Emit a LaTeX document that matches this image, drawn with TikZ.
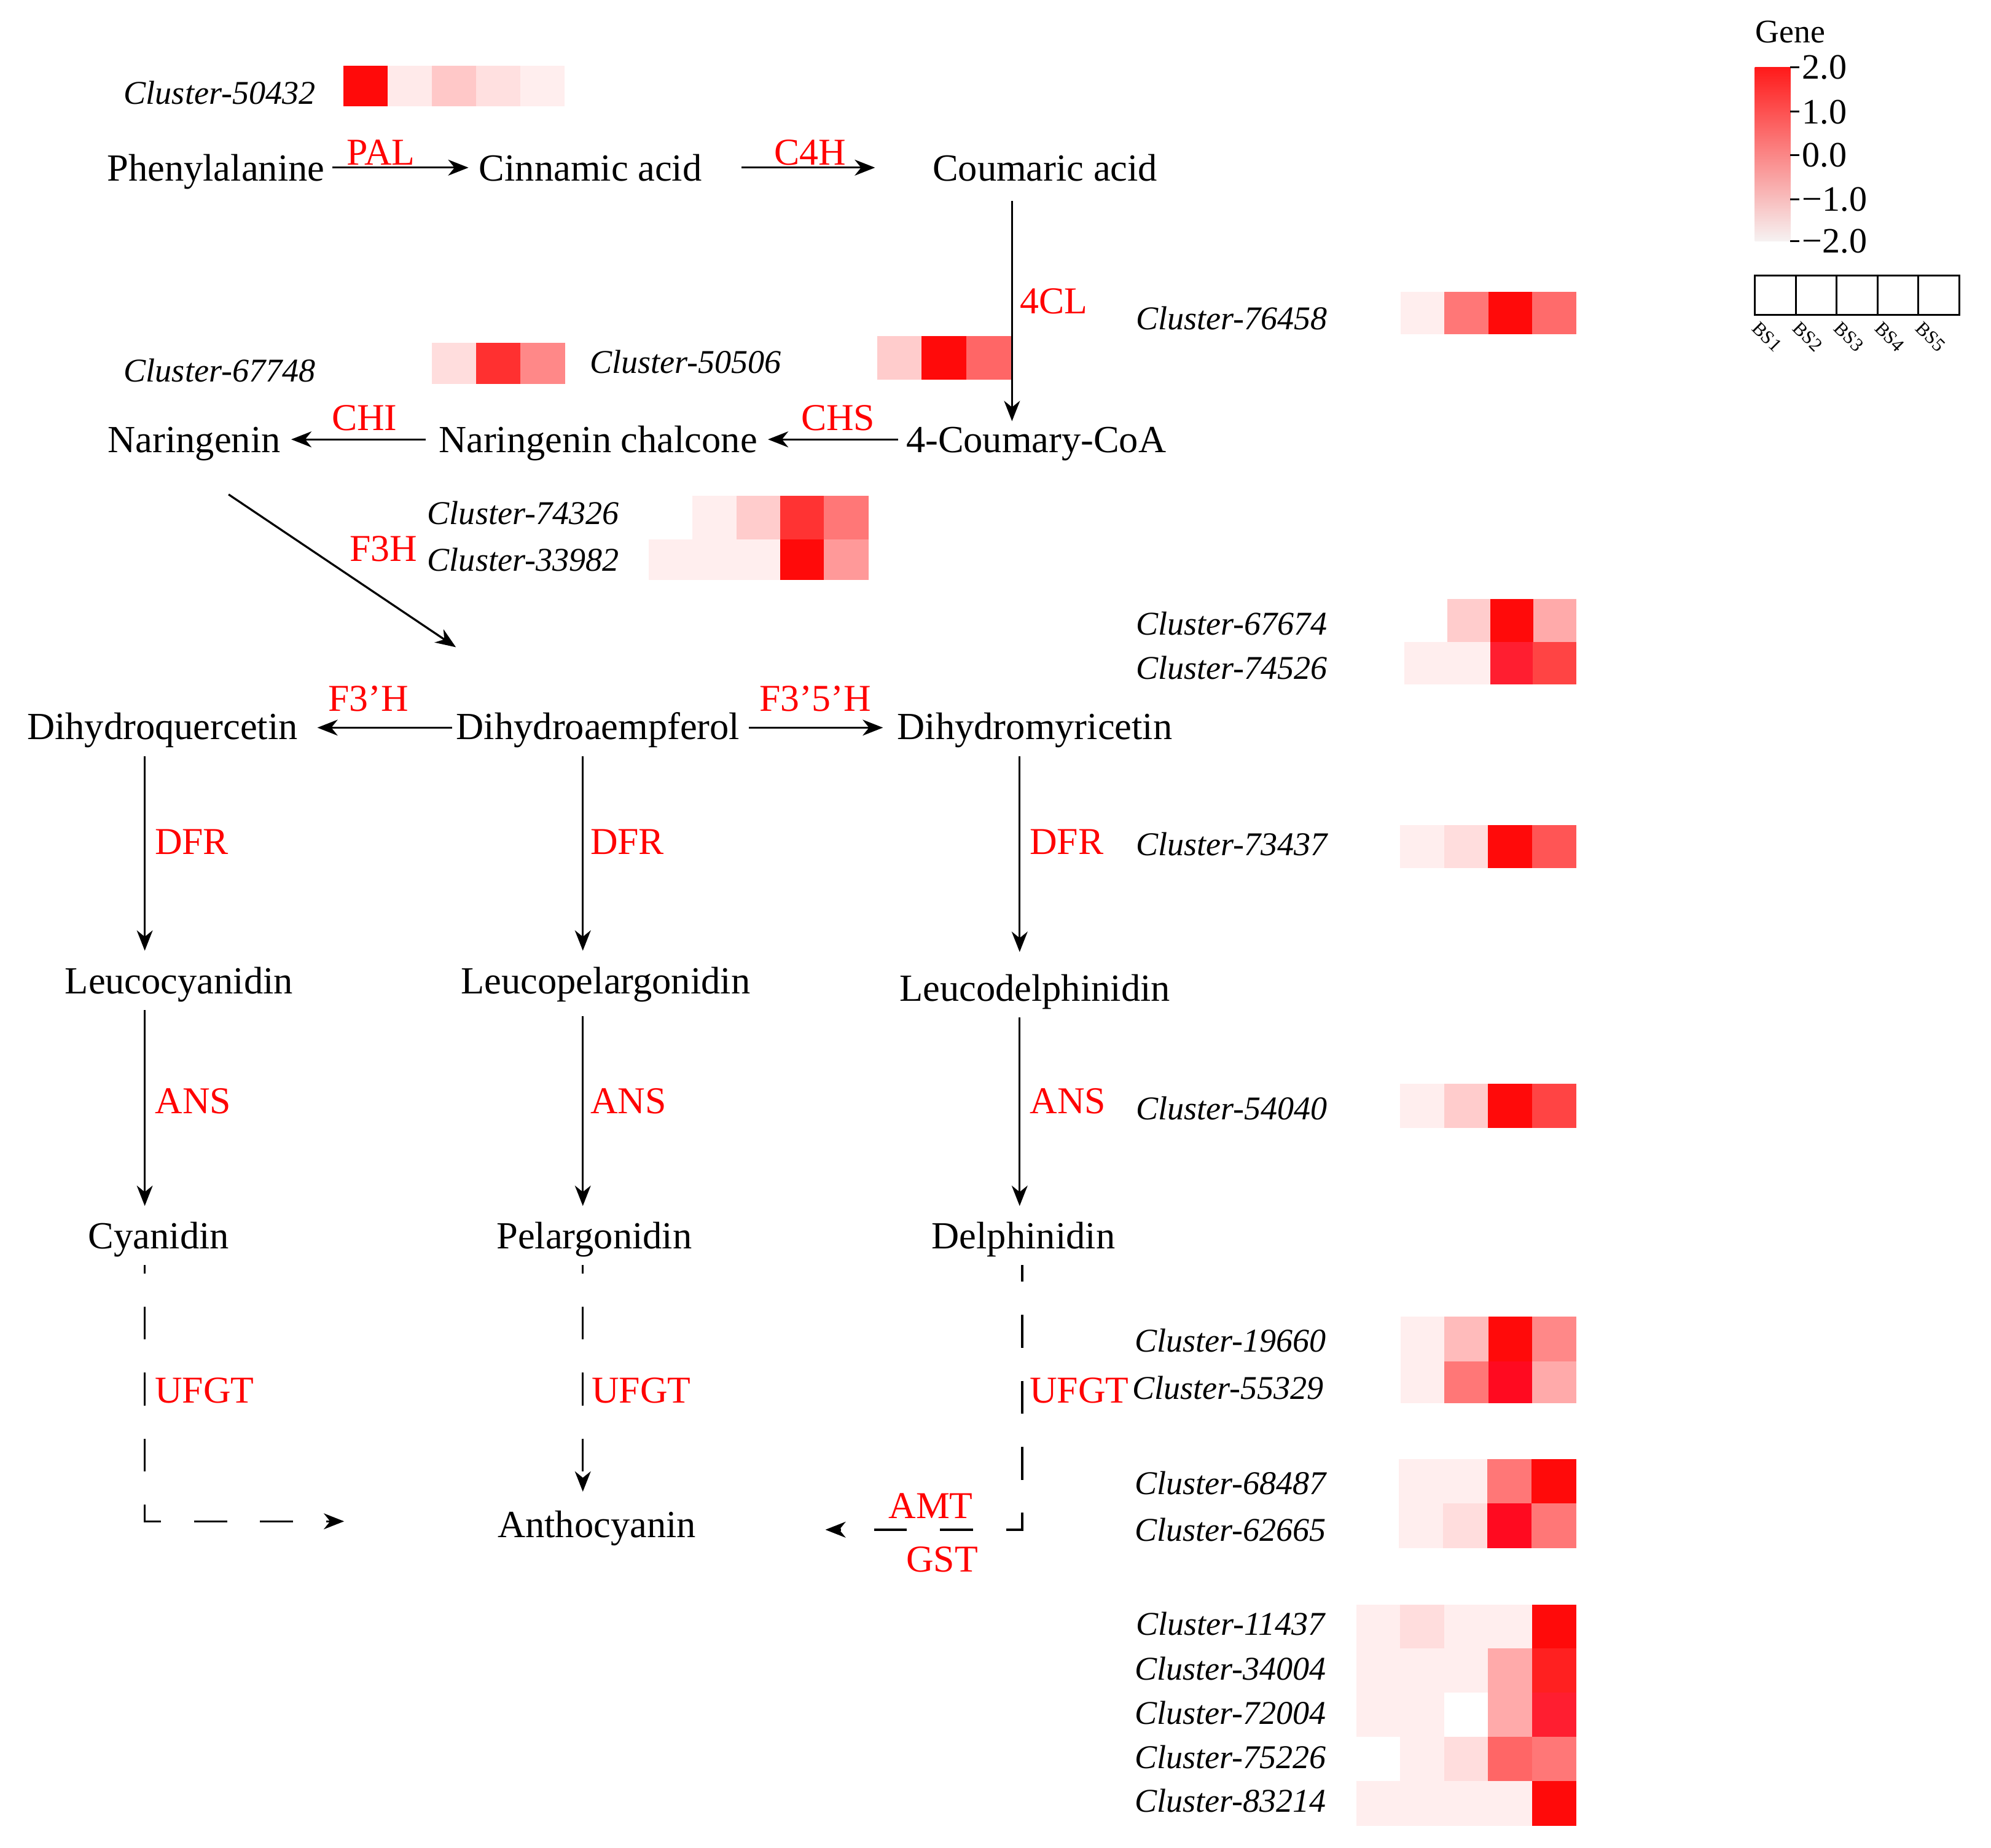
\documentclass[tikz,border=0pt]{standalone}
\usepackage{fontspec}
\setmainfont{Liberation Serif}
\usetikzlibrary{arrows.meta,calc}
\definecolor{cbtop}{HTML}{FF1A1A}
\definecolor{cbbot}{HTML}{F6F2F2}
\newcommand\hmrow[5]{%
  \foreach \hc [count=\hi from 0] in {#5} {%
    \edef\hmtmp{\noexpand\definecolor{hmc}{HTML}{\hc}}\hmtmp
    \fill[hmc] ({#1+\hi*#2},#3) rectangle ({#1+(\hi+1)*#2+0.4},#4);
  }}
\begin{document}
\begin{tikzpicture}[x=0.02cm,y=-0.02cm,
  cmp/.style={font=\fontsize{17.2}{20}\selectfont, inner xsep=0pt, inner ysep=5.34pt, text height=13.7pt, text depth=1.8pt},
  enz/.style={font=\fontsize{17}{20}\selectfont, text=red, inner sep=0pt, text height=11.3pt, text depth=0pt},
  clu/.style={font=\fontsize{14.9}{18}\selectfont\itshape, inner sep=0pt, text height=10pt, text depth=0pt},
  leg/.style={font=\fontsize{16}{18}\selectfont, inner sep=0pt, text height=10.6pt, text depth=0pt},
  arr/.style={line width=0.9pt, -{Stealth[length=0.32cm,width=0.25cm,inset=0.1cm]}},
  dsh/.style={line width=0.9pt, dash pattern=on 0.52cm off 0.52cm},
]
\useasboundingbox (0,0) rectangle (1568,1455);

% ---------- heatmaps ----------
\hmrow{270.5}{34.78}{51.6}{83.9}{FF0A0A,FFEAEA,FFC8C8,FFE0E0,FFEEEE}
\hmrow{340}{34.87}{269.8}{302.4}{FFDDDD,FF3030,FF8888}
\hmrow{690.8}{35}{264.5}{298.8}{FFCCCC,FF0A0A,FF6666}
\hmrow{545.3}{34.55}{390.3}{424.6}{FFEEEE,FFCCCC,FF3333,FF7777}
\hmrow{510.7}{34.56}{424.6}{456.9}{FFEEEE,FFEEEE,FFEEEE,FF0A0A,FF9999}
\hmrow{1103}{34.5}{230}{263}{FFEEEE,FF7777,FF0A0A,FF6B6B}
\hmrow{1140}{33.67}{471.7}{505.6}{FFCCCC,FF0A0A,FFAAAA}
\hmrow{1106}{33.75}{505.6}{539}{FFEEEE,FFEEEE,FF1E30,FF4444}
\hmrow{1102.6}{34.6}{649.6}{683.7}{FFEEEE,FFDDDD,FF0A0A,FF5555}
\hmrow{1102.6}{34.6}{853.4}{888}{FFEEEE,FFCCCC,FF0A0A,FF4444}
\hmrow{1103}{34.5}{1037}{1072}{FFEEEE,FFBBBB,FF0A0A,FF8888}
\hmrow{1103}{34.5}{1072}{1105}{FFEEEE,FF7777,FF0A20,FFAAAA}
\hmrow{1101.6}{34.85}{1149}{1184}{FFEEEE,FFEEEE,FF7777,FF0A0A}
\hmrow{1101.6}{34.85}{1184}{1219}{FFEEEE,FFDDDD,FF0A20,FF7777}
\hmrow{1068}{34.6}{1263.5}{1298}{FFEEEE,FFDDDD,FFEEEE,FFEEEE,FF0A0A}
\hmrow{1068}{34.6}{1298}{1333}{FFEEEE,FFEEEE,FFEEEE,FFAAAA,FF2020}
\hmrow{1068}{34.6}{1333}{1367.5}{FFEEEE,FFEEEE,FFFFFF,FFAAAA,FF1E30}
\hmrow{1068}{34.6}{1367.5}{1402.6}{FFFFFF,FFEEEE,FFDDDD,FF6666,FF7777}
\hmrow{1068}{34.6}{1402.6}{1437.7}{FFEEEE,FFEEEE,FFEEEE,FFEEEE,FF0A0A}

% ---------- cluster labels ----------
\node[clu] (k50432) at (173,73) {Cluster-50432};
\node[clu] (k67748) at (173,292) {Cluster-67748};
\node[clu] (k50506) at (540,285) {Cluster-50506};
\node[clu] (k74326) at (412,404) {Cluster-74326};
\node[clu] (k33982) at (412,441) {Cluster-33982};
\node[clu] (k76458) at (970,251) {Cluster-76458};
\node[clu] (k67674) at (970,491) {Cluster-67674};
\node[clu] (k74526) at (970,526) {Cluster-74526};
\node[clu] (k73437) at (970,665) {Cluster-73437};
\node[clu] (k54040) at (970,873) {Cluster-54040};
\node[clu] (k19660) at (969,1056) {Cluster-19660};
\node[clu] (k55329) at (967,1093) {Cluster-55329};
\node[clu] (k68487) at (969,1168) {Cluster-68487};
\node[clu] (k62665) at (969,1205) {Cluster-62665};
\node[clu] (k11437) at (969,1279) {Cluster-11437};
\node[clu] (k34004) at (969,1314) {Cluster-34004};
\node[clu] (k72004) at (969,1349) {Cluster-72004};
\node[clu] (k75226) at (969,1384) {Cluster-75226};
\node[clu] (k83214) at (969,1418) {Cluster-83214};

% ---------- compounds ----------
\node[cmp] (ph) at (170,132) {Phenylalanine};
\node[cmp] (ci) at (465,132) {Cinnamic acid};
\node[cmp] (co) at (823,132) {Coumaric acid};
\node[cmp] (na) at (153,346) {Naringenin};
\node[cmp] (nc) at (471,346) {Naringenin chalcone};
\node[cmp] (cc) at (816,346) {4-Coumary-CoA};
\node[cmp] (dq) at (128,572) {Dihydroquercetin};
\node[cmp] (dk) at (471,572) {Dihydroaempferol};
\node[cmp] (dm) at (815,572) {Dihydromyricetin};
\node[cmp] (lc) at (141,772) {Leucocyanidin};
\node[cmp] (lp) at (477,772) {Leucopelargonidin};
\node[cmp] (ld) at (815,778) {Leucodelphinidin};
\node[cmp] (cy) at (125,973) {Cyanidin};
\node[cmp] (pg) at (468,973) {Pelargonidin};
\node[cmp] (dp) at (806,973) {Delphinidin};
\node[cmp] (an) at (470,1200) {Anthocyanin};

\coordinate (xL) at (114,0);
\coordinate (xM) at (459,0);
\coordinate (xR) at (803,0);
\coordinate (xRd) at (805,0);
\coordinate (x4) at (797,0);
\coordinate (cyEnd) at (271,1198);
\coordinate (dpEnd) at (650,1204.6);

% ---------- connectors ----------
\draw[arr] ($(ph.east)+(6,0)$) -- ($(ci.west)+(-8,0)$);
\draw[arr] ($(ci.east)+(31,0)$) -- ($(co.west)+(-45,0)$);
\draw[arr] ($(co.south -| x4)+(0,3)$) -- ($(cc.north -| x4)+(0,9)$);
\draw[arr] ($(cc.west)+(-6,0)$) -- ($(nc.east)+(8,0)$);
\draw[arr] ($(nc.west)+(-10,0)$) -- ($(na.east)+(8,0)$);
\draw[arr] ($(na.south)+(27,20)$) -- ($(dk.north west)+(0,-39)$);
\draw[arr] ($(dk.west)+(-3,1)$) -- ($(dq.east)+(15,1)$);
\draw[arr] ($(dk.east)+(7,1)$) -- ($(dm.west)+(-11,1)$);
\draw[arr] (dq.south -| xL) -- (lc.north -| xL);
\draw[arr] (dk.south -| xM) -- (lp.north -| xM);
\draw[arr] (dm.south -| xR) -- ($(ld.north -| xR)+(0,-5)$);
\draw[arr] (lc.south -| xL) -- (cy.north -| xL);
\draw[arr] ($(lp.south -| xM)+(0,5)$) -- (pg.north -| xM);
\draw[arr] (ld.south -| xR) -- (dp.north -| xR);
\draw[dsh, dash phase=0.39cm, -{Stealth[length=0.32cm,width=0.25cm,inset=0.1cm]}] (cy.south -| xL) |- (cyEnd);
\draw[dsh, dash phase=0.39cm, -{Stealth[length=0.32cm,width=0.25cm,inset=0.1cm]}] (pg.south -| xM) -- ($(an.north -| xM)+(0,-2)$);
\draw[dsh, dash phase=0.26cm, -{Stealth[length=0.32cm,width=0.25cm,inset=0.1cm]}] (dp.south -| xRd) |- (dpEnd);

% ---------- enzyme labels ----------
\node[enz] (ePAL) at (300,120) {PAL};
\node[enz] (eC4H) at (638,120) {C4H};
\node[enz] (e4CL) at (830,237) {4CL};
\node[enz] (eCHI) at (287,329) {CHI};
\node[enz] (eCHS) at (660,329) {CHS};
\node[enz] (eF3H) at (302,432) {F3H};
\node[enz] (eF3pH) at (290,550) {F3’H};
\node[enz] (eF35H) at (642,550) {F3’5’H};
\node[enz] (eDFR1) at (151,663) {DFR};
\node[enz] (eDFR2) at (494,663) {DFR};
\node[enz] (eDFR3) at (840,663) {DFR};
\node[enz] (eANS1) at (152,867) {ANS};
\node[enz] (eANS2) at (495,867) {ANS};
\node[enz] (eANS3) at (841,867) {ANS};
\node[enz] (eUF1) at (161,1095) {UFGT};
\node[enz] (eUF2) at (505,1095) {UFGT};
\node[enz] (eUF3) at (850,1095) {UFGT};
\node[enz] (eAMT) at (733,1186) {AMT};
\node[enz] (eGST) at (742,1228) {GST};

% ---------- legend ----------
\node[font=\fontsize{14.8}{16}\selectfont, inner sep=0pt] (gene) at (1410,25) {Gene};
\shade[top color=cbtop, bottom color=cbbot] (1382,53) rectangle (1410,190);
\foreach \yy/\lab [count=\k] in {53/2.0,88/1.0,122/0.0,157/−1.0,190/−2.0} {
  \draw[line width=0.8pt] (1410,\yy) -- (1417,\yy);
  \node[leg, anchor=west] (tk\k) at (1419,\yy) {\lab};
}
\foreach \i in {0,...,4} {
  \draw[line width=0.8pt] ({1382+\i*32.2},217) rectangle ({1382+(\i+1)*32.2},248);
}
\foreach \i [count=\n] in {0,...,4} {
  \node[font=\fontsize{8.5}{9}\selectfont, rotate=-45, anchor=north west, inner sep=0pt] (bs\n) at ({1386+\i*32.2},252) {BS\n};
}
\end{tikzpicture}
\end{document}
